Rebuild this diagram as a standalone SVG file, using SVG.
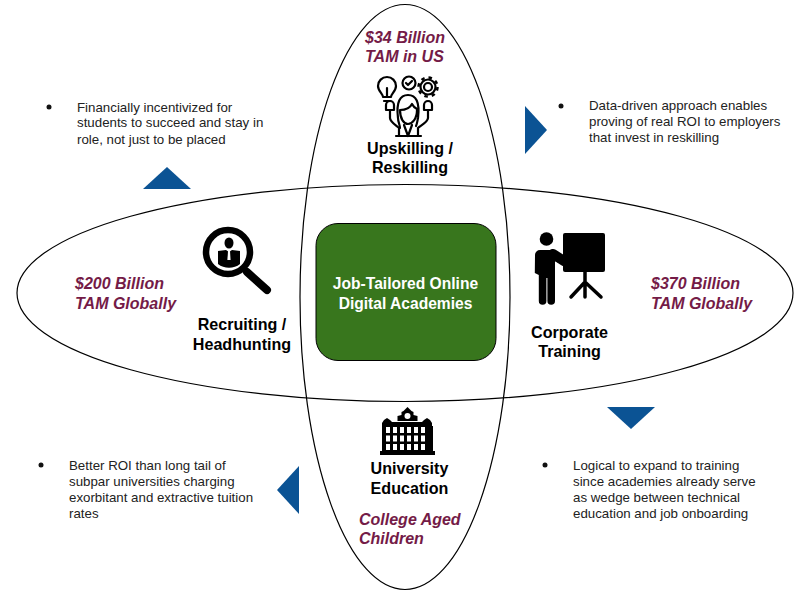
<svg xmlns="http://www.w3.org/2000/svg" width="800" height="600" viewBox="0 0 800 600">
<style>
text{font-family:"Liberation Sans",Arial,sans-serif}
.e{fill:none;stroke:#000;stroke-width:1.2}
.b{font-size:13.3px;fill:#222}
.t{font-size:16.1px;font-weight:700;fill:#000;text-anchor:middle}
.m{font-size:16px;font-weight:700;font-style:italic;fill:#741b47}
.c{font-size:15.6px;font-weight:700;fill:#fff;text-anchor:middle}
.a{fill:#0b5394}
.s{fill:none;stroke:#000;stroke-width:2.200;stroke-linecap:round;stroke-linejoin:round}
.k{fill:none;stroke:#000;stroke-linecap:round;stroke-linejoin:round}
.w{fill:#fff}
</style>
<rect width="800" height="600" fill="#fff"/>
<g id="connectors">
<ellipse class="e" cx="405" cy="293" rx="388" ry="108.500"/>
<ellipse class="e" cx="405" cy="297" rx="105" ry="292.500"/>
</g>
<g id="center">
<rect x="316" y="223.500" width="180" height="137" rx="22" fill="#38761d" stroke="#000" stroke-width="1"/>
<text class="c" x="405.500" y="288.500">Job-Tailored Online</text>
<text class="c" x="405.500" y="308.500">Digital Academies</text>
</g>
<g id="upskilling">
<text class="m" x="365" y="42.500">$34 Billion</text>
<text class="m" x="365" y="61.500">TAM in US</text>
<path class="s" d="M383 97c0-3-5-6-5-11a9 9 0 0 1 18 0c0 5-5 8-5 11zM384 101h6M387 97v-9"/>
<circle class="s" cx="409" cy="83" r="6.500"/>
<path class="s" d="M406 83l2 2 4-4"/>
<circle class="s" cx="428" cy="87" r="4"/>
<circle class="s" cx="428" cy="87" r="7.500"/>
<circle cx="428" cy="87" r="9.500" fill="none" stroke="#000" stroke-width="2.500" stroke-dasharray="3.500 4"/>
<path class="s" d="M398 118c-2-16 2-23 10-23s12 7 10 23c-1 5-1 6-2 8M398 118c0 4 2 7 2 10M400 110c5 0 10-2 12-6 1 2 3 4 5 5M400 110c0 9 4 14 8 14s9-5 9-14"/>
<path class="s" d="M390 110v8c0 4 7 8 9 10v8h19v-8c2-2 10-6 10-10v-8M404 125l4 11 4-11M396 136h25"/>
<path class="s" d="M386 110v-5a4 4 0 0 1 8 0v5zM424 110v-5a4 4 0 0 1 8 0v5z"/>
<text class="t" x="410" y="153.500">Upskilling /</text>
<text class="t" x="410" y="172.500">Reskilling</text>
</g>
<g id="recruiting">
<text class="m" x="75" y="288.500">$200 Billion</text>
<text class="m" x="75" y="308.500">TAM Globally</text>
<circle cx="228" cy="252" r="22" fill="#fff" stroke="#000" stroke-width="6.500"/>
<ellipse cx="229" cy="243" rx="4.500" ry="5.500"/>
<path d="M218 251l8-1 3 2 3-2 8 1v13c-6 5-16 5-22 0z"/>
<path d="M228 251h2l.6 9h-3.200z" fill="#fff"/>
<path d="M247 272l20 18" stroke="#000" stroke-width="8" stroke-linecap="round"/>
<text class="t" x="242" y="329.500">Recruiting /</text>
<text class="t" x="242" y="349.500">Headhunting</text>
</g>
<g id="corporate">
<text class="m" x="651" y="288.500">$370 Billion</text>
<text class="m" x="651" y="308.500">TAM Globally</text>
<rect x="563" y="233" width="42" height="39" rx="2"/>
<path d="M585 272v10M585 282l-14 15M585 282v15M585 282l16 15" stroke="#000" stroke-width="3.500" stroke-linecap="round" fill="none"/>
<circle cx="546.500" cy="239" r="6.800"/>
<path class="k" d="M553 254l11 7 11-9" stroke="#fff" stroke-width="10"/>
<path d="M535 255a5 5 0 0 1 5-5h12l11 7 9-7.500 4 5.500-13 10-8-4v40a3.800 3.800 0 0 1-7.600 0v-23h-1v23a3.800 3.800 0 0 1-7.600 0v-26l-4-2z"/>
<text class="t" x="569.500" y="337.500">Corporate</text>
<text class="t" x="569.500" y="356.500">Training</text>
</g>
<g id="university">
<path d="M407.500 407l4 4 2 1v3l4 1v5h-20v-5l4-1v-3l2-1z"/>
<path d="M382 426v-3l2-3 3-2 3 2 2 2h30l2-2 3-2 3 2 2 3v3h1v25h2v4h-55v-4h2v-25z"/>
<g class="w"><rect x="386" y="427" width="4" height="6"/><rect x="393" y="427" width="4" height="6"/><rect x="400" y="427" width="4" height="6"/><rect x="407" y="427" width="4" height="6"/><rect x="414" y="427" width="4" height="6"/><rect x="421" y="427" width="4" height="6"/>
<rect x="386" y="435.500" width="4" height="6"/><rect x="393" y="435.500" width="4" height="6"/><rect x="400" y="435.500" width="4" height="6"/><rect x="407" y="435.500" width="4" height="6"/><rect x="414" y="435.500" width="4" height="6"/><rect x="421" y="435.500" width="4" height="6"/>
<rect x="386" y="444" width="4" height="6"/><rect x="393" y="444" width="4" height="6"/><rect x="400" y="444" width="4" height="6"/><rect x="407" y="444" width="4" height="6"/><rect x="414" y="444" width="4" height="6"/><rect x="421" y="444" width="4" height="6"/></g>
<circle cx="407.500" cy="416" r="3" class="w"/>
<text class="t" x="409.500" y="473.500">University</text>
<text class="t" x="409.500" y="493.500">Education</text>
<text class="m" x="359" y="524.500">College Aged</text>
<text class="m" x="359" y="543.500">Children</text>
</g>
<g id="note-top-left">
<polygon class="a" points="143,189 191,189 167,167"/>
<circle cx="49" cy="107" r="2.500" fill="#111"/>
<text class="b" x="77" y="112">Financially incentivized for</text>
<text class="b" x="77" y="127">students to succeed and stay in</text>
<text class="b" x="77" y="144">role, not just to be placed</text>
</g>
<g id="note-top-right">
<polygon class="a" points="525,106 525,154 547,130"/>
<circle cx="561" cy="106" r="2.500" fill="#111"/>
<text class="b" x="589" y="110">Data-driven approach enables</text>
<text class="b" x="589" y="126">proving of real ROI to employers</text>
<text class="b" x="589" y="142">that invest in reskilling</text>
</g>
<g id="note-bottom-left">
<polygon class="a" points="299,466 299,514 277,490"/>
<circle cx="41" cy="465" r="2.500" fill="#111"/>
<text class="b" x="69" y="470">Better ROI than long tail of</text>
<text class="b" x="69" y="486">subpar universities charging</text>
<text class="b" x="69" y="502">exorbitant and extractive tuition</text>
<text class="b" x="69" y="518">rates</text>
</g>
<g id="note-bottom-right">
<polygon class="a" points="607,407 655,407 631,429"/>
<circle cx="545" cy="465" r="2.500" fill="#111"/>
<text class="b" x="573" y="470">Logical to expand to training</text>
<text class="b" x="573" y="486">since academies already serve</text>
<text class="b" x="573" y="502">as wedge between technical</text>
<text class="b" x="573" y="518">education and job onboarding</text>
</g>
</svg>
